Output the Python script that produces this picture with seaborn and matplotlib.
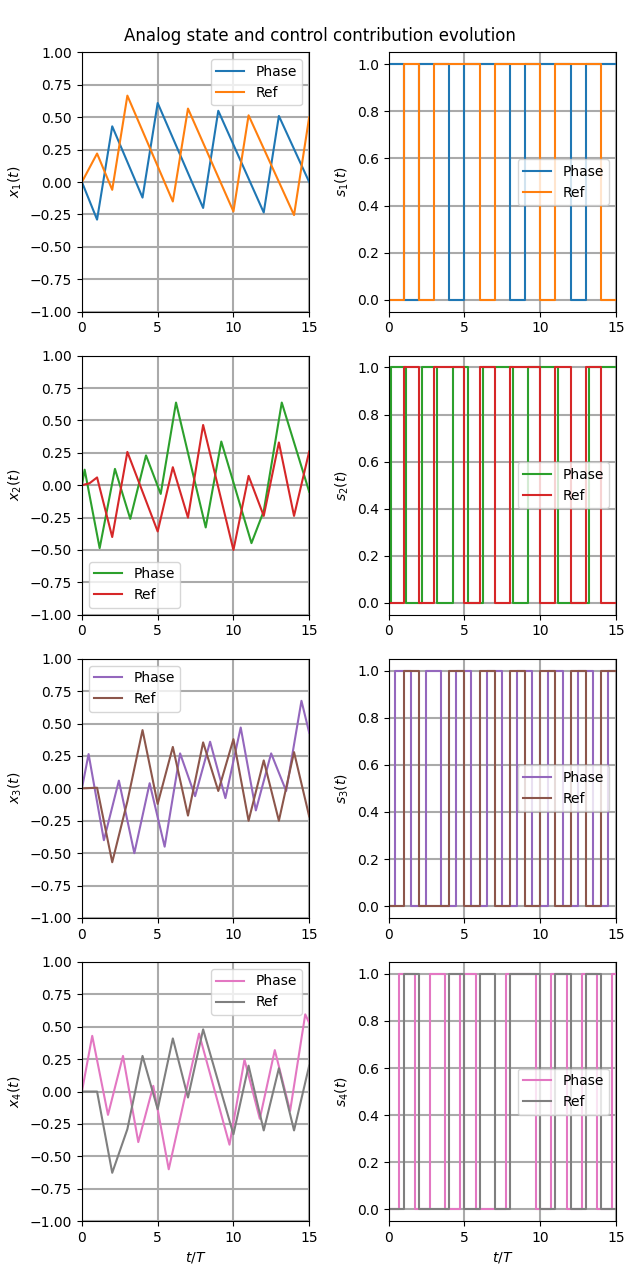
import numpy as np
import matplotlib
matplotlib.use("Agg")
import matplotlib.pyplot as plt
import seaborn as sns

T_END = 15

# ---- analog states (knots of piecewise-linear traces) ----
t_x1_phase = [0, 1, 2, 4, 5, 8, 9, 12, 13, 15]
x1_phase = [0, -0.29, 0.43, -0.12, 0.61, -0.20, 0.55, -0.235, 0.51, 0.0]
t_x1_ref = [0, 1, 2, 3, 6, 7, 10, 11, 14, 15]
x1_ref = [0, 0.22, -0.06, 0.667, -0.15, 0.567, -0.227, 0.515, -0.255, 0.5]

t_x2_phase = [0, 0.18, 1.17, 2.18, 3.19, 4.23, 5.2, 6.21, 8.17, 9.2, 11.19, 12.0, 13.19, 15]
x2_phase = [0, 0.12, -0.486, 0.126, -0.26, 0.23, -0.067, 0.638, -0.326, 0.337, -0.447, -0.2, 0.638, -0.05]
t_x2_ref = [0, 0.5, 1, 2, 3, 5, 6, 7, 8, 10, 11, 12, 13, 14, 15]
x2_ref = [0, 0.015, 0.06, -0.40, 0.257, -0.357, 0.139, -0.25, 0.465, -0.50, 0.072, -0.237, 0.33, -0.237, 0.26]

t_x3_phase = [0, 0.44, 1.45, 2.44, 3.46, 4.47, 5.46, 6.48, 7.47, 8.46, 9.47, 10.48, 11.48, 12.49, 13.48, 14.49, 15]
x3_phase = [0, 0.265, -0.40, 0.06, -0.50, 0.04, -0.45, 0.27, -0.06, 0.36, -0.075, 0.47, -0.17, 0.27, -0.02, 0.676, 0.43]
t_x3_ref = [0, 1, 2, 3, 4, 5, 6, 7, 8, 9, 10, 11, 12, 13, 14, 15]
x3_ref = [0, 0.005, -0.57, -0.1, 0.45, -0.12, 0.32, -0.21, 0.355, -0.02, 0.38, -0.25, 0.216, -0.25, 0.28, -0.216]

t_x4_phase = [0, 0.68, 1.72, 2.71, 3.72, 4.71, 5.73, 7.73, 9.74, 10.73, 11.74, 12.73, 13.74, 14.74, 15]
x4_phase = [0, 0.43, -0.18, 0.275, -0.39, 0.044, -0.60, 0.447, -0.41, 0.247, -0.21, 0.32, -0.15, 0.596, 0.53]
t_x4_ref = [0, 1, 2, 3, 4, 5, 6, 7, 8, 10, 11, 12, 13, 14, 15]
x4_ref = [0, 0, -0.627, -0.29, 0.275, -0.136, 0.41, -0.046, 0.48, -0.33, 0.2, -0.30, 0.18, -0.30, 0.2]

# ---- control signals: initial value and switching times ----
s1_phase_init, s1_phase_switch = 1, [1, 2, 4, 5, 8, 9, 12, 13]
s1_ref_init, s1_ref_switch = 0, [1, 2, 3, 6, 7, 10, 11, 14]
s2_phase_init, s2_phase_switch = 0, [0.18, 1.17, 2.18, 3.19, 4.23, 5.2, 6.21, 8.17, 9.2, 11.19, 13.19]
s2_ref_init, s2_ref_switch = 0, [1, 2, 3, 5, 6, 7, 8, 10, 11, 12, 13, 14]
s3_phase_init, s3_phase_switch = 0, [0.44, 1.45, 2.44, 3.46, 4.47, 5.46, 6.48, 7.47, 8.46, 9.47, 10.48, 11.48, 12.49, 13.48, 14.49]
s3_ref_init, s3_ref_switch = 0, [1, 2, 4, 5, 6, 7, 8, 9, 10, 11, 12, 13, 14]
s4_phase_init, s4_phase_switch = 0, [0.68, 1.72, 2.71, 3.72, 4.71, 5.73, 7.73, 9.74, 10.73, 11.74, 12.73, 13.74, 14.74]
s4_ref_init, s4_ref_switch = 0, [1, 2, 4, 5, 6, 7, 8, 10, 11, 12, 13, 14]

series_labels = ["Phase", "Ref"]
x_ylabels = [r"$x_1(t)$", r"$x_2(t)$", r"$x_3(t)$", r"$x_4(t)$"]
s_ylabels = [r"$s_1(t)$", r"$s_2(t)$", r"$s_3(t)$", r"$s_4(t)$"]
xlabel = r"$t/T$"
title = "Analog state and control contribution evolution"
legend_locs_left = ["upper right", "lower left", "upper left", "upper right"]


def step_series(init, switches):
    t = [0.0] + list(switches) + [T_END]
    v = [init]
    cur = init
    for _ in switches:
        cur = 1 - cur
        v.append(cur)
    v.append(cur)
    return np.array(t, dtype=float), np.array(v, dtype=float)


x_data = [
    ((t_x1_phase, x1_phase), (t_x1_ref, x1_ref)),
    ((t_x2_phase, x2_phase), (t_x2_ref, x2_ref)),
    ((t_x3_phase, x3_phase), (t_x3_ref, x3_ref)),
    ((t_x4_phase, x4_phase), (t_x4_ref, x4_ref)),
]
s_data = [
    (step_series(s1_phase_init, s1_phase_switch), step_series(s1_ref_init, s1_ref_switch)),
    (step_series(s2_phase_init, s2_phase_switch), step_series(s2_ref_init, s2_ref_switch)),
    (step_series(s3_phase_init, s3_phase_switch), step_series(s3_ref_init, s3_ref_switch)),
    (step_series(s4_phase_init, s4_phase_switch), step_series(s4_ref_init, s4_ref_switch)),
]

palette = sns.color_palette("tab10")

fig, axes = plt.subplots(4, 2, figsize=(6.4, 12.8), dpi=100)
fig.subplots_adjust(left=0.128, right=0.9625, top=0.959, bottom=0.046, hspace=0.17, wspace=0.35)
fig.suptitle(title, y=0.979, fontsize=12)

for i in range(4):
    axl, axr = axes[i, 0], axes[i, 1]
    cp, cr = palette[2 * i], palette[2 * i + 1]
    (tp, vp), (tr, vr) = x_data[i]
    sns.lineplot(x=tp, y=vp, ax=axl, color=cp, label=series_labels[0], estimator=None, sort=False, linewidth=1.5)
    sns.lineplot(x=tr, y=vr, ax=axl, color=cr, label=series_labels[1], estimator=None, sort=False, linewidth=1.5)
    axl.set_xlim(0, T_END)
    axl.set_ylim(-1, 1)
    axl.set_yticks(np.arange(-1, 1.01, 0.25))
    axl.set_xticks([0, 5, 10, 15])
    axl.grid(True, color="#aaaaaa", linewidth=1.5)
    axl.set_axisbelow(True)
    axl.set_ylabel(x_ylabels[i])
    axl.legend(loc=legend_locs_left[i])

    (tsp, vsp), (tsr, vsr) = s_data[i]
    sns.lineplot(x=tsp, y=vsp, ax=axr, color=cp, label=series_labels[0], estimator=None, sort=False,
                 drawstyle="steps-post", linewidth=1.5)
    sns.lineplot(x=tsr, y=vsr, ax=axr, color=cr, label=series_labels[1], estimator=None, sort=False,
                 drawstyle="steps-post", linewidth=1.5)
    axr.set_xlim(0, T_END)
    axr.set_ylim(-0.05, 1.05)
    axr.set_yticks(np.arange(0, 1.01, 0.2))
    axr.set_xticks([0, 5, 10, 15])
    axr.grid(True, color="#aaaaaa", linewidth=1.5)
    axr.set_axisbelow(True)
    axr.set_ylabel(s_ylabels[i])
    axr.legend(loc="center right")
    axl.set_xlabel("")
    axr.set_xlabel("")

axes[3, 0].set_xlabel(xlabel)
axes[3, 1].set_xlabel(xlabel)

fig.savefig("out.png", dpi=100)
